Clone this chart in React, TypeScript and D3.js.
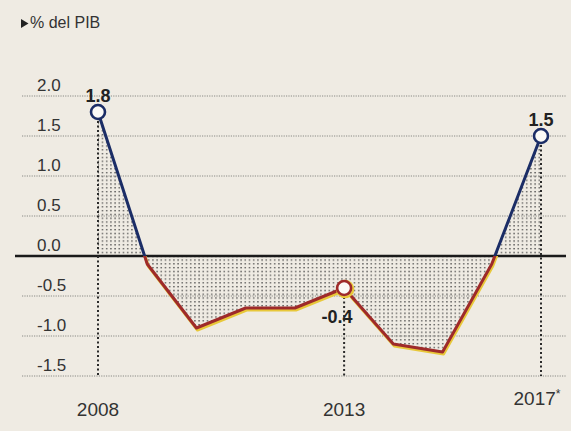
import React from 'react';
import * as d3 from 'd3';

const years = [2008, 2009, 2010, 2011, 2012, 2013, 2014, 2015, 2016, 2017];
const values = [1.8, -0.1, -0.9, -0.65, -0.65, -0.4, -1.1, -1.2, -0.1, 1.5];
const yTicks = [2.0, 1.5, 1.0, 0.5, 0.0, -0.5, -1.0, -1.5];
const highlights = [
    { year: 2008, label: '1.8' },
    { year: 2013, label: '-0.4' },
    { year: 2017, label: '1.5' },
];
const xLabels = ['2008', '2013', '2017'];

const W = 571;
const H = 431;
const FONT = '"Liberation Sans", Arial, sans-serif';

export default function App() {
    const x = d3.scaleLinear().domain([2008, 2017]).range([98, 541]);
    const y = d3.scaleLinear().domain([0, 2]).range([256, 96]);

    const pts = years.map((yr, i) => ({ yr, v: values[i] }));

    const line = d3.line<any>().x(d => x(d.yr)).y(d => y(d.v));
    const area = d3.area<any>().x(d => x(d.yr)).y0(y(0)).y1(d => y(d.v));

    const gridLeft = 22;
    const gridRight = 566;
    const bottom = y(-1.5);

    return (
        <svg width={W} height={H} style={{ position: 'absolute', left: 0, top: 0 }} fontFamily={FONT}>
            <defs>
                <pattern id="dots" width="4.2" height="3.8" patternUnits="userSpaceOnUse">
                    <rect x="1" y="1" width="1.4" height="1.3" fill="#4a4a4a" />
                </pattern>
                <clipPath id="above">
                    <rect x="0" y="0" width={W} height={y(0)} />
                </clipPath>
                <clipPath id="below">
                    <rect x="0" y={y(0)} width={W} height={H} />
                </clipPath>
            </defs>
            <rect width={W} height={H} fill="#efebe3" />

            <path d="M21,19 L28.5,23.5 L21,28 Z" fill="#222" />
            <text x={30} y={28} fontSize={16} fill="#333">% del PIB</text>

            {/* dotted area */}
            <path d={area(pts) as string} fill="url(#dots)" />

            {/* grid */}
            {yTicks.map(t => (
                <g key={t}>
                    {t !== 0 && (
                        <line x1={gridLeft} x2={gridRight} y1={y(t)} y2={y(t)}
                            stroke="#8a8a86" strokeWidth={1} strokeDasharray="1.2,1.2" />
                    )}
                    <text x={37} y={y(t) - 5} fontSize={17} fill="#333">{t.toFixed(1)}</text>
                </g>
            ))}
            <line x1={15} x2={gridRight} y1={y(0)} y2={y(0)} stroke="#1a1a1a" strokeWidth={2.5} />

            {/* drop lines */}
            {highlights.map(h => {
                const v = values[years.indexOf(h.year)];
                return (
                    <line key={h.year} x1={x(h.year)} x2={x(h.year)} y1={y(v)} y2={bottom}
                        stroke="#2a2a2a" strokeWidth={2} strokeDasharray="2,2.5" />
                );
            })}

            {/* line */}
            <g clipPath="url(#below)">
                <path d={line(pts) as string} fill="none" stroke="#e8c83a" strokeWidth={3}
                    transform="translate(1,2)" strokeLinejoin="round" />
                <path d={line(pts) as string} fill="none" stroke="#9e2a2a" strokeWidth={3} strokeLinejoin="round" />
            </g>
            <g clipPath="url(#above)">
                <path d={line(pts) as string} fill="none" stroke="#1b2d66" strokeWidth={3} strokeLinejoin="round" />
            </g>

            {/* circles */}
            {highlights.map(h => {
                const v = values[years.indexOf(h.year)];
                const neg = v < 0;
                return (
                    <g key={h.year}>
                        {neg && <circle cx={x(h.year) + 1} cy={y(v) + 1} r={8} fill="none" stroke="#e8c83a" strokeWidth={2.5} />}
                        <circle cx={x(h.year)} cy={y(v)} r={7} fill="#fbfaf6"
                            stroke={neg ? '#9e2a2a' : '#1b2d66'} strokeWidth={2.6} />
                    </g>
                );
            })}

            {/* value labels */}
            {highlights.map(h => {
                const v = values[years.indexOf(h.year)];
                const neg = v < 0;
                return (
                    <text key={h.year} x={neg ? x(h.year) - 7 : x(h.year)} y={neg ? y(v) + 35 : y(v) - 10}
                        textAnchor="middle" fontSize={18} fontWeight="bold" fill="#222">{h.label}</text>
                );
            })}

            {/* x labels */}
            {xLabels.map(l => {
                const yr = +l;
                const last = yr === 2017;
                return (
                    <text key={l} x={last ? x(yr) - 4 : x(yr)} y={last ? 405 : 416} textAnchor="middle" fontSize={19} fill="#333">
                        {l}{last && <tspan fontSize={12} dy={-7}>*</tspan>}
                    </text>
                );
            })}
        </svg>
    );
}
